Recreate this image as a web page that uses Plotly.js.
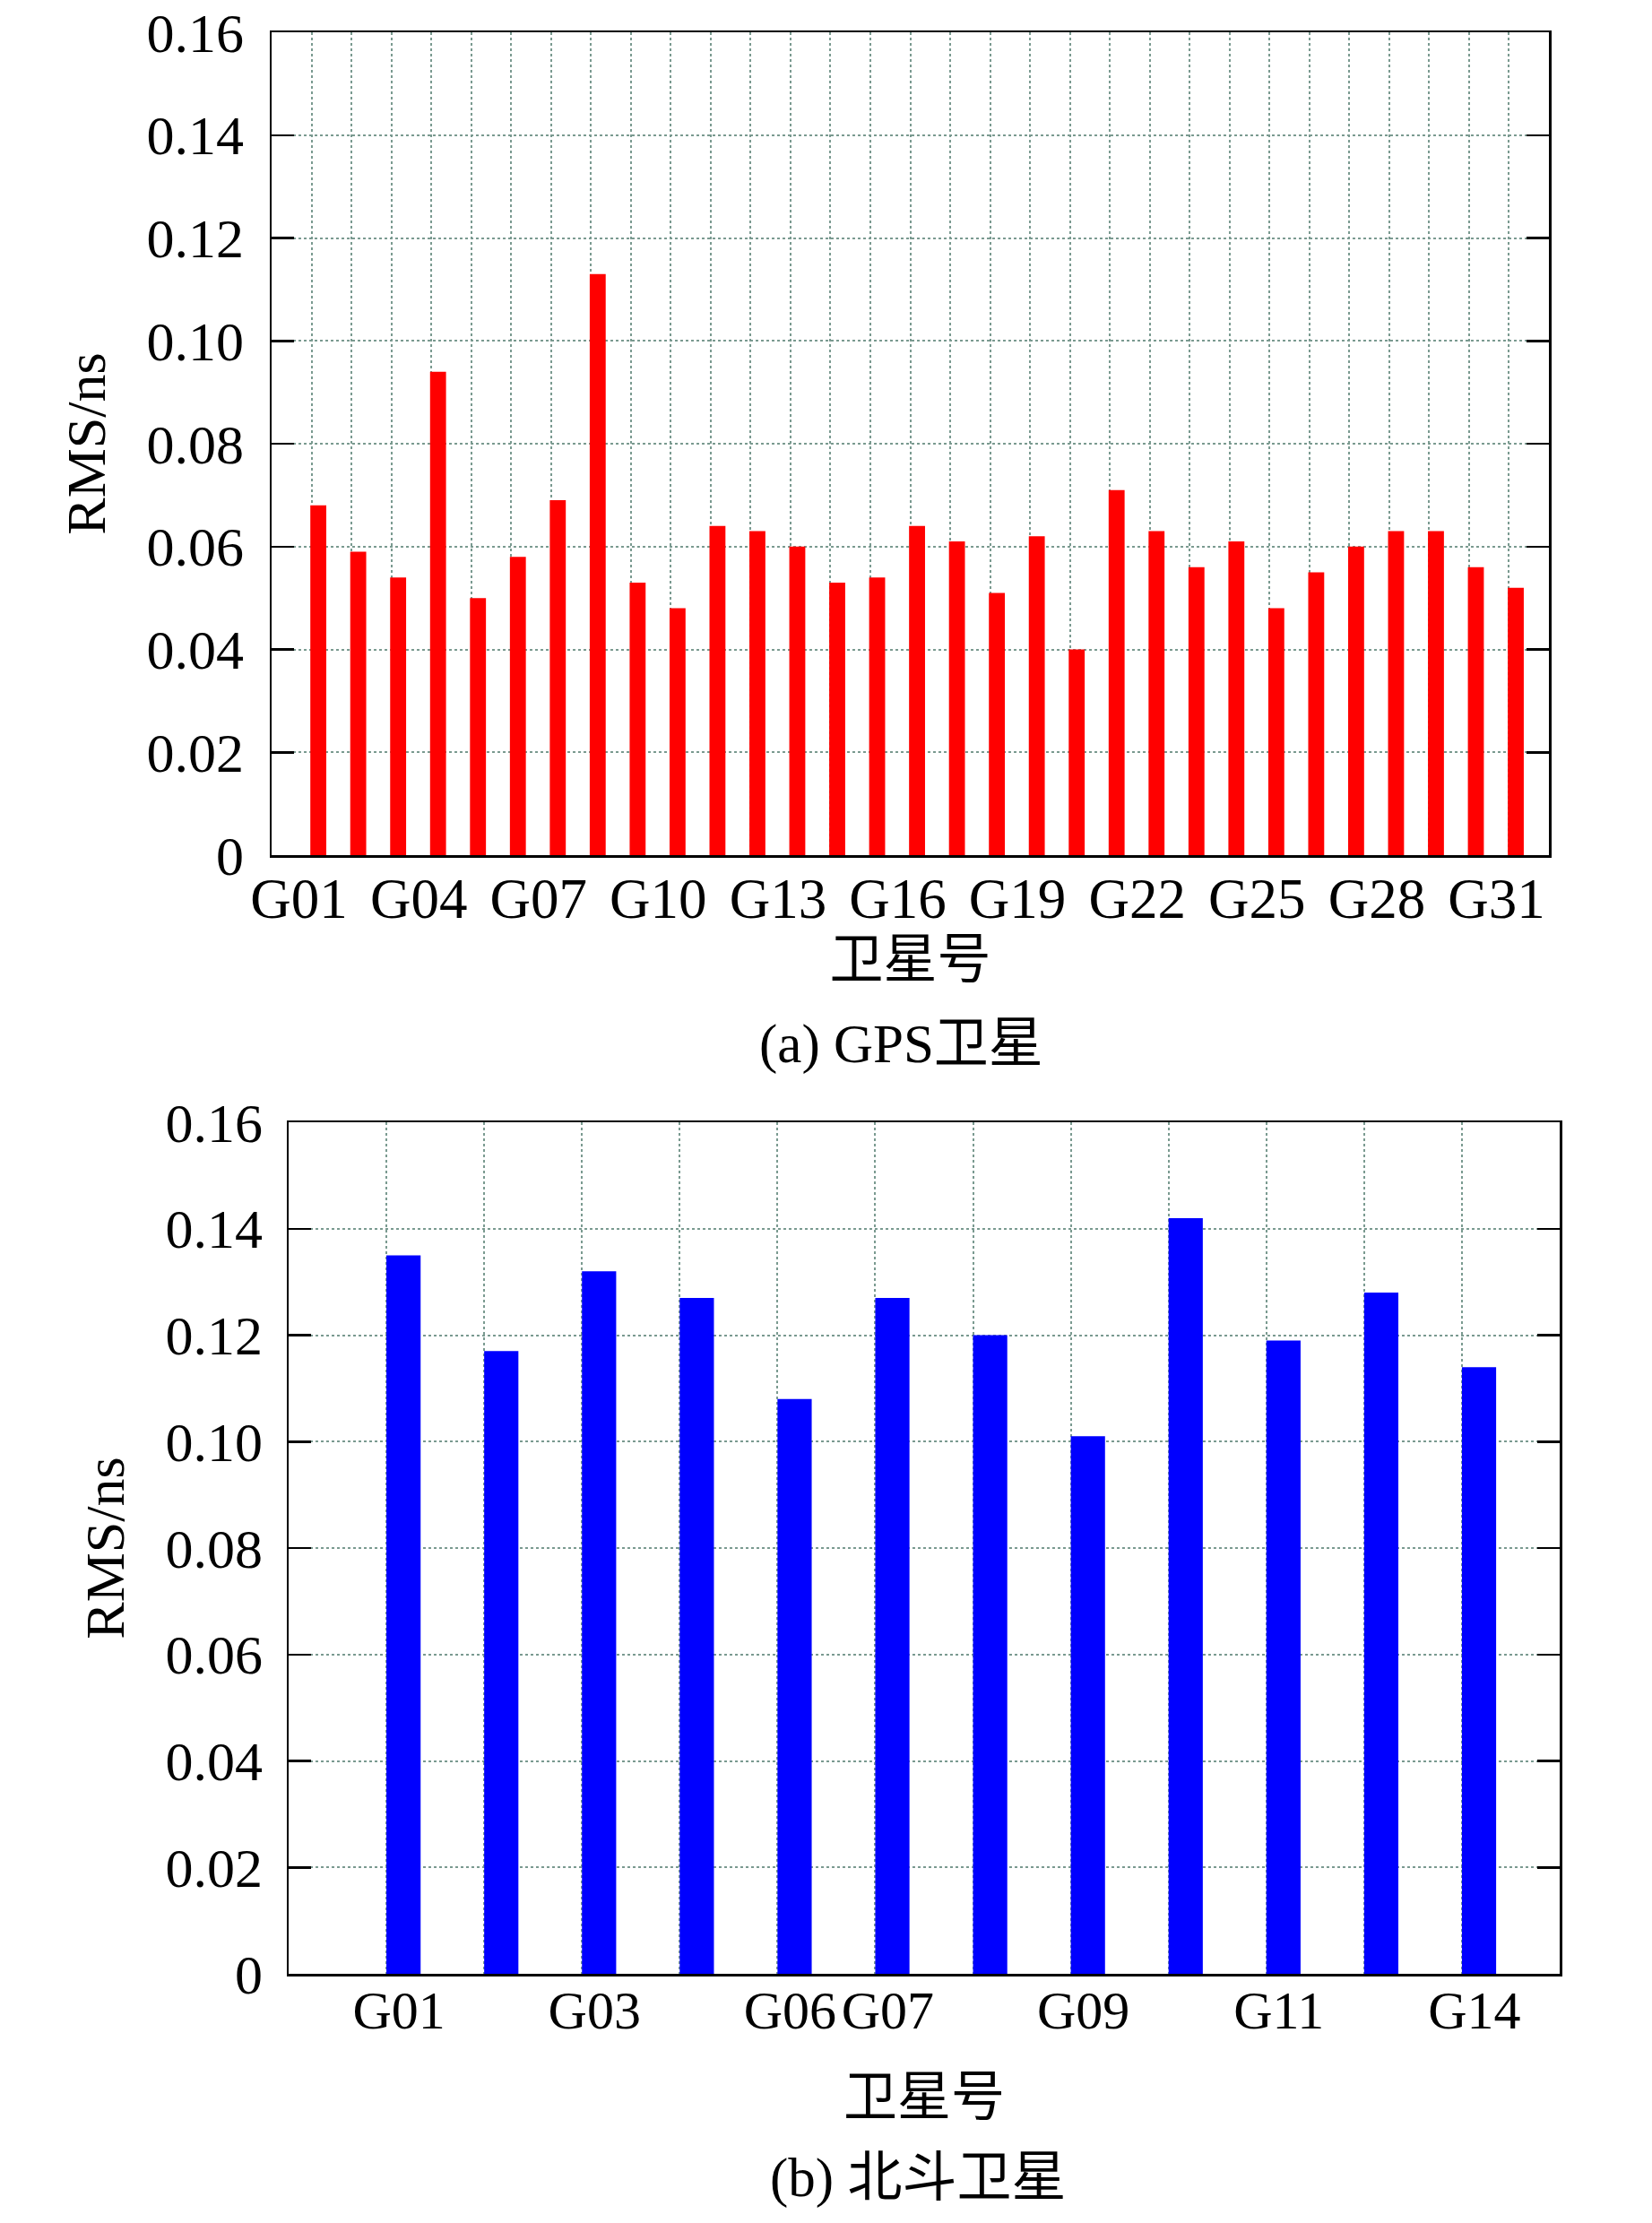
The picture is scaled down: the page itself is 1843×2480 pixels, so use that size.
<!DOCTYPE html>
<html>
<head>
<meta charset="utf-8">
<script src="https://cdn.plot.ly/plotly-3.0.1.min.js"></script>
<style>html,body{margin:0;padding:0;background:#fff;}#chart{width:1843px;height:2480px;}</style>
</head>
<body>
<div id="chart"></div>
<script>
// GPS satellites (panel a)
const gpsCategories = ['G01','G02','G03','G04','G05','G06','G07','G08','G09','G10','G11','G12','G13','G14','G15','G16','G17','G18','G19','G20','G21','G22','G23','G24','G25','G26','G27','G28','G29','G30','G31'];
const gpsRms = [0.068,0.059,0.054,0.094,0.050,0.058,0.069,0.113,0.053,0.048,0.064,0.063,0.060,0.053,0.054,0.064,0.061,0.051,0.062,0.040,0.071,0.063,0.056,0.061,0.048,0.055,0.060,0.063,0.063,0.056,0.052];
const gpsTickLabels = ['G01','G04','G07','G10','G13','G16','G19','G22','G25','G28','G31'];

// BeiDou satellites (panel b)
const bdsCategories = ['G01','G02','G03','G04','G06','G07','G08','G09','G10','G11','G12','G14'];
const bdsRms = [0.135,0.117,0.132,0.127,0.108,0.127,0.120,0.101,0.142,0.119,0.128,0.114];
const bdsTickLabels = ['G01','G03','G06','G07','G09','G11','G14'];

const yTicks = [0,0.02,0.04,0.06,0.08,0.10,0.12,0.14,0.16];
const yTickText = ['0','0.02','0.04','0.06','0.08','0.10','0.12','0.14','0.16'];

const yTitle = 'RMS/ns';
const xTitle = '卫星号';
const captionA = '(a) GPS卫星';
const captionB = '(b) 北斗卫星';

const FONT = 'Liberation Serif, "Times New Roman", "Noto Sans CJK SC", serif';
const gridColor = '#7a9a90';

function xAxis(cats, labels, domain, anchor, shift, lblStandoff, titleStandoff, fsize) {
  return {
    domain: domain, anchor: anchor, type: 'category',
    categoryorder: 'array', categoryarray: cats,
    range: [-1, cats.length],
    tickmode: 'array', tickvals: cats,
    ticktext: cats.map(c => labels.includes(c) ? c : ''),
    tickangle: 0,
    ticklabelshift: shift, ticklabelstandoff: lblStandoff,
    ticks: '', showline: true, mirror: true, linecolor: '#000', linewidth: 2.5,
    showgrid: true, gridcolor: gridColor, griddash: 'dot', gridwidth: 2,
    tickfont: {family: FONT, size: fsize, color: '#000'},
    title: {text: xTitle, font: {family: FONT, size: 60, color: '#000'}, standoff: titleStandoff},
    automargin: false, zeroline: false, fixedrange: true
  };
}
function yAxis(domain, anchor, lblStandoff, titleStandoff) {
  return {
    domain: domain, anchor: anchor, range: [0, 0.16],
    tickmode: 'array', tickvals: yTicks, ticktext: yTickText,
    ticks: 'inside', ticklen: 25, tickwidth: 2.5, tickcolor: '#000',
    ticklabelstandoff: lblStandoff,
    showline: true, mirror: 'ticks', linecolor: '#000', linewidth: 2.5,
    showgrid: true, gridcolor: gridColor, griddash: 'dot', gridwidth: 2,
    zeroline: false,
    tickfont: {family: FONT, size: 62, color: '#000'},
    title: {text: yTitle, font: {family: FONT, size: 62, color: '#000'}, standoff: titleStandoff},
    automargin: false, fixedrange: true
  };
}

const traces = [
  {type: 'bar', x: gpsCategories, y: gpsRms, xaxis: 'x', yaxis: 'y',
   marker: {color: '#ff0000', line: {width: 0}}, width: 0.4, offset: -0.03, hoverinfo: 'skip'},
  {type: 'bar', x: bdsCategories, y: bdsRms, xaxis: 'x2', yaxis: 'y2',
   marker: {color: '#0000ff', line: {width: 0}}, width: 0.35, offset: 0.0, hoverinfo: 'skip'}
];

const layout = {
  width: 1843, height: 2480,
  margin: {l: 0, r: 0, t: 0, b: 0},
  paper_bgcolor: '#fff', plot_bgcolor: '#fff',
  showlegend: false,
  font: {family: FONT, color: '#000'},
  xaxis: xAxis(gpsCategories, gpsTickLabels, [303/1843, 1728/1843], 'y', -14, -8, 12, 63),
  yaxis: yAxis([1-954/2480, 1-36/2480], 'x', 16, 26),
  xaxis2: xAxis(bdsCategories, bdsTickLabels, [322/1843, 1740/1843], 'y2', 14, -14, 44, 60),
  yaxis2: yAxis([1-2202/2480, 1-1252/2480], 'x2', 14, 26),
  annotations: [
    {text: captionA, xref: 'paper', yref: 'paper', x: 1005/1843, y: 1-1165/2480,
     xanchor: 'center', yanchor: 'middle', showarrow: false,
     font: {family: FONT, size: 61, color: '#000'}},
    {text: captionB, xref: 'paper', yref: 'paper', x: 1024/1843, y: 1-2430/2480,
     xanchor: 'center', yanchor: 'middle', showarrow: false,
     font: {family: FONT, size: 61, color: '#000'}}
  ]
};

Plotly.newPlot('chart', traces, layout, {displayModeBar: false, staticPlot: true});
</script>
</body>
</html>
